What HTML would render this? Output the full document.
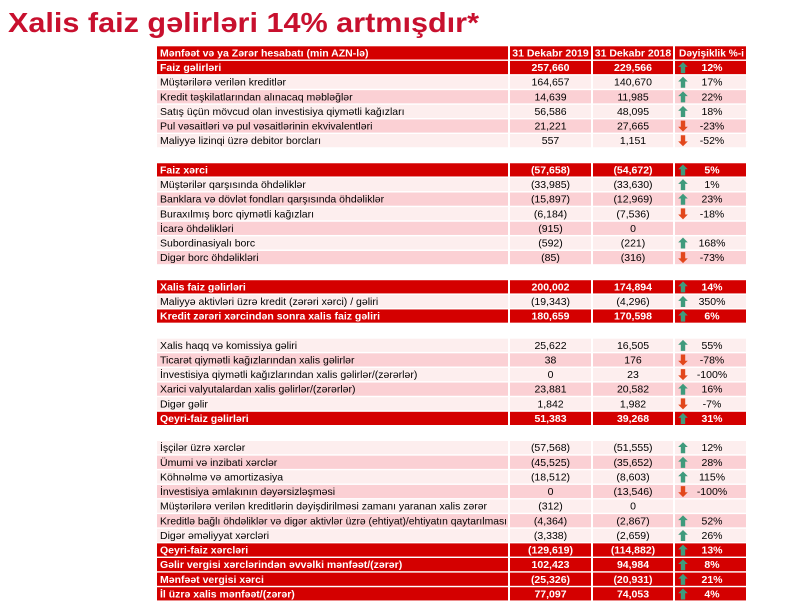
<!DOCTYPE html>
<html>
<head>
<meta charset="utf-8">
<style>
html,body{margin:0;padding:0;background:#fff;}
svg{display:block;}
text{font-family:"Liberation Sans",Arial,sans-serif;font-size:10.5px;fill:#000;}
g.R rect{fill:#d40000;}
g.R text{fill:#fff;font-weight:bold;}
g.L rect{fill:#fdeeee;}
g.D rect{fill:#fbd0d4;}
.up{fill:#3f9a7c;}
.dn{fill:#e2471c;}
.m{text-anchor:middle;}
.t{font-size:28px;font-weight:bold;fill:#c8102e;}
</style>
</head>
<body>
<svg width="800" height="613" viewBox="0 0 800 613" xmlns="http://www.w3.org/2000/svg">
<defs>
<path id="up" d="M683 1.2 L687.8 6 L685.2 6 L685.2 12.2 L680.8 12.2 L680.8 6 L678.2 6 Z"/>
<path id="dn" d="M683 12.2 L687.8 7.4 L685.2 7.4 L685.2 1.2 L680.8 1.2 L680.8 7.4 L678.2 7.4 Z"/>
</defs>
<rect width="800" height="613" fill="#fff"/>
<text class="t" x="8" y="32" textLength="471" lengthAdjust="spacingAndGlyphs">Xalis faiz gəlirləri 14% artmışdır*</text>

<!-- 1 header -->
<g class="R" transform="translate(0,46.3)">
<rect x="157" width="351" height="13.2"/><rect x="510" width="81" height="13.2"/><rect x="593" width="80" height="13.2"/><rect x="675" width="71" height="13.2"/>
<text x="160" y="10.2">Mənfəət və ya Zərər hesabatı  (min AZN-lə)</text><text class="m" x="550.5" y="10.2">31 Dekabr 2019</text><text class="m" x="633" y="10.2">31 Dekabr 2018</text><text x="679" y="10.2" textLength="65" lengthAdjust="spacingAndGlyphs">Dəyişiklik %-i</text>
</g>
<!-- 2 -->
<g class="R" transform="translate(0,60.92)">
<rect x="157" width="351" height="13.2"/><rect x="510" width="81" height="13.2"/><rect x="593" width="80" height="13.2"/><rect x="675" width="71" height="13.2"/>
<text x="160" y="10.2">Faiz gəlirləri</text><text class="m" x="550.5" y="10.2">257,660</text><text class="m" x="633" y="10.2">229,566</text><use href="#up" class="up"/><text class="m" x="712" y="10.2">12%</text>
</g>
<!-- 3 -->
<g class="L" transform="translate(0,75.54)">
<rect x="157" width="351" height="13.2"/><rect x="510" width="81" height="13.2"/><rect x="593" width="80" height="13.2"/><rect x="675" width="71" height="13.2"/>
<text x="160" y="10.2">Müştərilərə verilən kreditlər</text><text class="m" x="550.5" y="10.2">164,657</text><text class="m" x="633" y="10.2">140,670</text><use href="#up" class="up"/><text class="m" x="712" y="10.2">17%</text>
</g>
<!-- 4 -->
<g class="D" transform="translate(0,90.16)">
<rect x="157" width="351" height="13.2"/><rect x="510" width="81" height="13.2"/><rect x="593" width="80" height="13.2"/><rect x="675" width="71" height="13.2"/>
<text x="160" y="10.2">Kredit təşkilatlarından alınacaq məbləğlər</text><text class="m" x="550.5" y="10.2">14,639</text><text class="m" x="633" y="10.2">11,985</text><use href="#up" class="up"/><text class="m" x="712" y="10.2">22%</text>
</g>
<!-- 5 -->
<g class="L" transform="translate(0,104.78)">
<rect x="157" width="351" height="13.2"/><rect x="510" width="81" height="13.2"/><rect x="593" width="80" height="13.2"/><rect x="675" width="71" height="13.2"/>
<text x="160" y="10.2">Satış üçün mövcud olan investisiya qiymətli kağızları</text><text class="m" x="550.5" y="10.2">56,586</text><text class="m" x="633" y="10.2">48,095</text><use href="#up" class="up"/><text class="m" x="712" y="10.2">18%</text>
</g>
<!-- 6 -->
<g class="D" transform="translate(0,119.4)">
<rect x="157" width="351" height="13.2"/><rect x="510" width="81" height="13.2"/><rect x="593" width="80" height="13.2"/><rect x="675" width="71" height="13.2"/>
<text x="160" y="10.2">Pul vəsaitləri və pul vəsaitlərinin ekvivalentləri</text><text class="m" x="550.5" y="10.2">21,221</text><text class="m" x="633" y="10.2">27,665</text><use href="#dn" class="dn"/><text class="m" x="712" y="10.2">-23%</text>
</g>
<!-- 7 -->
<g class="L" transform="translate(0,134.02)">
<rect x="157" width="351" height="13.2"/><rect x="510" width="81" height="13.2"/><rect x="593" width="80" height="13.2"/><rect x="675" width="71" height="13.2"/>
<text x="160" y="10.2">Maliyyə lizinqi üzrə debitor borcları</text><text class="m" x="550.5" y="10.2">557</text><text class="m" x="633" y="10.2">1,151</text><use href="#dn" class="dn"/><text class="m" x="712" y="10.2">-52%</text>
</g>
<!-- 9 -->
<g class="R" transform="translate(0,163.26)">
<rect x="157" width="351" height="13.2"/><rect x="510" width="81" height="13.2"/><rect x="593" width="80" height="13.2"/><rect x="675" width="71" height="13.2"/>
<text x="160" y="10.2">Faiz xərci</text><text class="m" x="550.5" y="10.2">(57,658)</text><text class="m" x="633" y="10.2">(54,672)</text><use href="#up" class="up"/><text class="m" x="712" y="10.2">5%</text>
</g>
<!-- 10 -->
<g class="L" transform="translate(0,177.88)">
<rect x="157" width="351" height="13.2"/><rect x="510" width="81" height="13.2"/><rect x="593" width="80" height="13.2"/><rect x="675" width="71" height="13.2"/>
<text x="160" y="10.2">Müştərilər qarşısında öhdəliklər</text><text class="m" x="550.5" y="10.2">(33,985)</text><text class="m" x="633" y="10.2">(33,630)</text><use href="#up" class="up"/><text class="m" x="712" y="10.2">1%</text>
</g>
<!-- 11 -->
<g class="D" transform="translate(0,192.5)">
<rect x="157" width="351" height="13.2"/><rect x="510" width="81" height="13.2"/><rect x="593" width="80" height="13.2"/><rect x="675" width="71" height="13.2"/>
<text x="160" y="10.2">Banklara və dövlət fondları qarşısında öhdəliklər</text><text class="m" x="550.5" y="10.2">(15,897)</text><text class="m" x="633" y="10.2">(12,969)</text><use href="#up" class="up"/><text class="m" x="712" y="10.2">23%</text>
</g>
<!-- 12 -->
<g class="L" transform="translate(0,207.12)">
<rect x="157" width="351" height="13.2"/><rect x="510" width="81" height="13.2"/><rect x="593" width="80" height="13.2"/><rect x="675" width="71" height="13.2"/>
<text x="160" y="10.2">Buraxılmış borc qiymətli kağızları</text><text class="m" x="550.5" y="10.2">(6,184)</text><text class="m" x="633" y="10.2">(7,536)</text><use href="#dn" class="dn"/><text class="m" x="712" y="10.2">-18%</text>
</g>
<!-- 13 -->
<g class="D" transform="translate(0,221.74)">
<rect x="157" width="351" height="13.2"/><rect x="510" width="81" height="13.2"/><rect x="593" width="80" height="13.2"/><rect x="675" width="71" height="13.2"/>
<text x="160" y="10.2">İcarə öhdəlikləri</text><text class="m" x="550.5" y="10.2">(915)</text><text class="m" x="633" y="10.2">0</text>
</g>
<!-- 14 -->
<g class="L" transform="translate(0,236.36)">
<rect x="157" width="351" height="13.2"/><rect x="510" width="81" height="13.2"/><rect x="593" width="80" height="13.2"/><rect x="675" width="71" height="13.2"/>
<text x="160" y="10.2">Subordinasiyalı borc</text><text class="m" x="550.5" y="10.2">(592)</text><text class="m" x="633" y="10.2">(221)</text><use href="#up" class="up"/><text class="m" x="712" y="10.2">168%</text>
</g>
<!-- 15 -->
<g class="D" transform="translate(0,250.98)">
<rect x="157" width="351" height="13.2"/><rect x="510" width="81" height="13.2"/><rect x="593" width="80" height="13.2"/><rect x="675" width="71" height="13.2"/>
<text x="160" y="10.2">Digər borc öhdəlikləri</text><text class="m" x="550.5" y="10.2">(85)</text><text class="m" x="633" y="10.2">(316)</text><use href="#dn" class="dn"/><text class="m" x="712" y="10.2">-73%</text>
</g>
<!-- 17 -->
<g class="R" transform="translate(0,280.22)">
<rect x="157" width="351" height="13.2"/><rect x="510" width="81" height="13.2"/><rect x="593" width="80" height="13.2"/><rect x="675" width="71" height="13.2"/>
<text x="160" y="10.2">Xalis faiz gəlirləri</text><text class="m" x="550.5" y="10.2">200,002</text><text class="m" x="633" y="10.2">174,894</text><use href="#up" class="up"/><text class="m" x="712" y="10.2">14%</text>
</g>
<!-- 18 -->
<g class="L" transform="translate(0,294.84)">
<rect x="157" width="351" height="13.2"/><rect x="510" width="81" height="13.2"/><rect x="593" width="80" height="13.2"/><rect x="675" width="71" height="13.2"/>
<text x="160" y="10.2">Maliyyə aktivləri üzrə kredit (zərəri xərci) / gəliri</text><text class="m" x="550.5" y="10.2">(19,343)</text><text class="m" x="633" y="10.2">(4,296)</text><use href="#up" class="up"/><text class="m" x="712" y="10.2">350%</text>
</g>
<!-- 19 -->
<g class="R" transform="translate(0,309.46)">
<rect x="157" width="351" height="13.2"/><rect x="510" width="81" height="13.2"/><rect x="593" width="80" height="13.2"/><rect x="675" width="71" height="13.2"/>
<text x="160" y="10.2">Kredit zərəri xərcindən sonra xalis faiz gəliri</text><text class="m" x="550.5" y="10.2">180,659</text><text class="m" x="633" y="10.2">170,598</text><use href="#up" class="up"/><text class="m" x="712" y="10.2">6%</text>
</g>
<!-- 21 -->
<g class="L" transform="translate(0,338.7)">
<rect x="157" width="351" height="13.2"/><rect x="510" width="81" height="13.2"/><rect x="593" width="80" height="13.2"/><rect x="675" width="71" height="13.2"/>
<text x="160" y="10.2">Xalis haqq və komissiya gəliri</text><text class="m" x="550.5" y="10.2">25,622</text><text class="m" x="633" y="10.2">16,505</text><use href="#up" class="up"/><text class="m" x="712" y="10.2">55%</text>
</g>
<!-- 22 -->
<g class="D" transform="translate(0,353.32)">
<rect x="157" width="351" height="13.2"/><rect x="510" width="81" height="13.2"/><rect x="593" width="80" height="13.2"/><rect x="675" width="71" height="13.2"/>
<text x="160" y="10.2">Ticarət qiymətli kağızlarından xalis gəlirlər</text><text class="m" x="550.5" y="10.2">38</text><text class="m" x="633" y="10.2">176</text><use href="#dn" class="dn"/><text class="m" x="712" y="10.2">-78%</text>
</g>
<!-- 23 -->
<g class="L" transform="translate(0,367.94)">
<rect x="157" width="351" height="13.2"/><rect x="510" width="81" height="13.2"/><rect x="593" width="80" height="13.2"/><rect x="675" width="71" height="13.2"/>
<text x="160" y="10.2">İnvestisiya qiymətli kağızlarından xalis gəlirlər/(zərərlər)</text><text class="m" x="550.5" y="10.2">0</text><text class="m" x="633" y="10.2">23</text><use href="#dn" class="dn"/><text class="m" x="712" y="10.2">-100%</text>
</g>
<!-- 24 -->
<g class="D" transform="translate(0,382.56)">
<rect x="157" width="351" height="13.2"/><rect x="510" width="81" height="13.2"/><rect x="593" width="80" height="13.2"/><rect x="675" width="71" height="13.2"/>
<text x="160" y="10.2">Xarici valyutalardan xalis gəlirlər/(zərərlər)</text><text class="m" x="550.5" y="10.2">23,881</text><text class="m" x="633" y="10.2">20,582</text><use href="#up" class="up"/><text class="m" x="712" y="10.2">16%</text>
</g>
<!-- 25 -->
<g class="L" transform="translate(0,397.18)">
<rect x="157" width="351" height="13.2"/><rect x="510" width="81" height="13.2"/><rect x="593" width="80" height="13.2"/><rect x="675" width="71" height="13.2"/>
<text x="160" y="10.2">Digər gəlir</text><text class="m" x="550.5" y="10.2">1,842</text><text class="m" x="633" y="10.2">1,982</text><use href="#dn" class="dn"/><text class="m" x="712" y="10.2">-7%</text>
</g>
<!-- 26 -->
<g class="R" transform="translate(0,411.8)">
<rect x="157" width="351" height="13.2"/><rect x="510" width="81" height="13.2"/><rect x="593" width="80" height="13.2"/><rect x="675" width="71" height="13.2"/>
<text x="160" y="10.2">Qeyri-faiz gəlirləri</text><text class="m" x="550.5" y="10.2">51,383</text><text class="m" x="633" y="10.2">39,268</text><use href="#up" class="up"/><text class="m" x="712" y="10.2">31%</text>
</g>
<!-- 28 -->
<g class="L" transform="translate(0,441.04)">
<rect x="157" width="351" height="13.2"/><rect x="510" width="81" height="13.2"/><rect x="593" width="80" height="13.2"/><rect x="675" width="71" height="13.2"/>
<text x="160" y="10.2">İşçilər üzrə xərclər</text><text class="m" x="550.5" y="10.2">(57,568)</text><text class="m" x="633" y="10.2">(51,555)</text><use href="#up" class="up"/><text class="m" x="712" y="10.2">12%</text>
</g>
<!-- 29 -->
<g class="D" transform="translate(0,455.66)">
<rect x="157" width="351" height="13.2"/><rect x="510" width="81" height="13.2"/><rect x="593" width="80" height="13.2"/><rect x="675" width="71" height="13.2"/>
<text x="160" y="10.2">Ümumi və inzibati xərclər</text><text class="m" x="550.5" y="10.2">(45,525)</text><text class="m" x="633" y="10.2">(35,652)</text><use href="#up" class="up"/><text class="m" x="712" y="10.2">28%</text>
</g>
<!-- 30 -->
<g class="L" transform="translate(0,470.28)">
<rect x="157" width="351" height="13.2"/><rect x="510" width="81" height="13.2"/><rect x="593" width="80" height="13.2"/><rect x="675" width="71" height="13.2"/>
<text x="160" y="10.2">Köhnəlmə və amortizasiya</text><text class="m" x="550.5" y="10.2">(18,512)</text><text class="m" x="633" y="10.2">(8,603)</text><use href="#up" class="up"/><text class="m" x="712" y="10.2">115%</text>
</g>
<!-- 31 -->
<g class="D" transform="translate(0,484.9)">
<rect x="157" width="351" height="13.2"/><rect x="510" width="81" height="13.2"/><rect x="593" width="80" height="13.2"/><rect x="675" width="71" height="13.2"/>
<text x="160" y="10.2">İnvestisiya əmlakının dəyərsizləşməsi</text><text class="m" x="550.5" y="10.2">0</text><text class="m" x="633" y="10.2">(13,546)</text><use href="#dn" class="dn"/><text class="m" x="712" y="10.2">-100%</text>
</g>
<!-- 32 -->
<g class="L" transform="translate(0,499.52)">
<rect x="157" width="351" height="13.2"/><rect x="510" width="81" height="13.2"/><rect x="593" width="80" height="13.2"/><rect x="675" width="71" height="13.2"/>
<text x="160" y="10.2" textLength="327" lengthAdjust="spacingAndGlyphs">Müştərilərə verilən kreditlərin dəyişdirilməsi zamanı yaranan xalis zərər</text><text class="m" x="550.5" y="10.2">(312)</text><text class="m" x="633" y="10.2">0</text>
</g>
<!-- 33 -->
<g class="D" transform="translate(0,514.14)">
<rect x="157" width="351" height="13.2"/><rect x="510" width="81" height="13.2"/><rect x="593" width="80" height="13.2"/><rect x="675" width="71" height="13.2"/>
<text x="160" y="10.2" textLength="347" lengthAdjust="spacingAndGlyphs">Kreditlə bağlı öhdəliklər və digər aktivlər üzrə (ehtiyat)/ehtiyatın qaytarılması</text><text class="m" x="550.5" y="10.2">(4,364)</text><text class="m" x="633" y="10.2">(2,867)</text><use href="#up" class="up"/><text class="m" x="712" y="10.2">52%</text>
</g>
<!-- 34 -->
<g class="L" transform="translate(0,528.76)">
<rect x="157" width="351" height="13.2"/><rect x="510" width="81" height="13.2"/><rect x="593" width="80" height="13.2"/><rect x="675" width="71" height="13.2"/>
<text x="160" y="10.2">Digər əməliyyat xərcləri</text><text class="m" x="550.5" y="10.2">(3,338)</text><text class="m" x="633" y="10.2">(2,659)</text><use href="#up" class="up"/><text class="m" x="712" y="10.2">26%</text>
</g>
<!-- 35 -->
<g class="R" transform="translate(0,543.38)">
<rect x="157" width="351" height="13.2"/><rect x="510" width="81" height="13.2"/><rect x="593" width="80" height="13.2"/><rect x="675" width="71" height="13.2"/>
<text x="160" y="10.2">Qeyri-faiz xərcləri</text><text class="m" x="550.5" y="10.2">(129,619)</text><text class="m" x="633" y="10.2">(114,882)</text><use href="#up" class="up"/><text class="m" x="712" y="10.2">13%</text>
</g>
<!-- 36 -->
<g class="R" transform="translate(0,558)">
<rect x="157" width="351" height="13.2"/><rect x="510" width="81" height="13.2"/><rect x="593" width="80" height="13.2"/><rect x="675" width="71" height="13.2"/>
<text x="160" y="10.2">Gəlir vergisi xərclərindən əvvəlki mənfəət/(zərər)</text><text class="m" x="550.5" y="10.2">102,423</text><text class="m" x="633" y="10.2">94,984</text><use href="#up" class="up"/><text class="m" x="712" y="10.2">8%</text>
</g>
<!-- 37 -->
<g class="R" transform="translate(0,572.62)">
<rect x="157" width="351" height="13.2"/><rect x="510" width="81" height="13.2"/><rect x="593" width="80" height="13.2"/><rect x="675" width="71" height="13.2"/>
<text x="160" y="10.2">Mənfəət vergisi xərci</text><text class="m" x="550.5" y="10.2">(25,326)</text><text class="m" x="633" y="10.2">(20,931)</text><use href="#up" class="up"/><text class="m" x="712" y="10.2">21%</text>
</g>
<!-- 38 -->
<g class="R" transform="translate(0,587.24)">
<rect x="157" width="351" height="13.2"/><rect x="510" width="81" height="13.2"/><rect x="593" width="80" height="13.2"/><rect x="675" width="71" height="13.2"/>
<text x="160" y="10.2">İl üzrə xalis mənfəət/(zərər)</text><text class="m" x="550.5" y="10.2">77,097</text><text class="m" x="633" y="10.2">74,053</text><use href="#up" class="up"/><text class="m" x="712" y="10.2">4%</text>
</g>
</svg>
</body>
</html>
